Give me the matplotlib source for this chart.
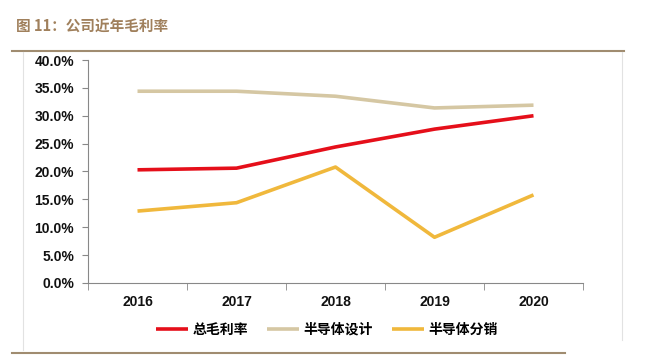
import matplotlib.pyplot as plt
from matplotlib.lines import Line2D
from matplotlib.ticker import FuncFormatter

plt.rcParams['font.family'] = ['Liberation Sans', 'Noto Sans CJK SC', 'DejaVu Sans']

years = ['2016', '2017', '2018', '2019', '2020']
total_margin = [20.3, 20.6, 24.4, 27.6, 30.0]
design_margin = [34.4, 34.4, 33.5, 31.4, 31.9]
distrib_margin = [12.9, 14.4, 20.8, 8.2, 15.8]
labels = ['总毛利率', '半导体设计', '半导体分销']
colors = ['#e50f1a', '#d5c7a3', '#f0b83c']

fig = plt.figure(figsize=(6.49, 3.57), dpi=100)
ax = fig.add_axes([0.1356, 0.2073, 0.7627, 1 - 60 / 357 - 0.2073])

x = range(len(years))
for vals, lab, c in zip([total_margin, design_margin, distrib_margin], labels, colors):
    ax.plot(x, vals, color=c, lw=2.6, label=lab, solid_capstyle='butt')

ax.set_xlim(-0.5, 4.5)
ax.set_ylim(0, 40)
ax.set_yticks(range(0, 41, 5))
ax.yaxis.set_major_formatter(FuncFormatter(lambda v, p: f'{v:.1f}%'))
ax.set_xticks(list(x))
ax.set_xticklabels(years)
ax.set_xticks([i - 0.5 for i in range(6)], minor=True)
ax.tick_params(axis='x', which='major', length=0, pad=9)
ax.tick_params(axis='x', which='minor', length=5, color='#888888', direction='out')
ax.tick_params(axis='y', length=4, color='#888888', direction='out', pad=6)
for lbl in ax.get_xticklabels() + ax.get_yticklabels():
    lbl.set_fontweight('bold')
    lbl.set_fontsize(10)
    lbl.set_color('#111111')
for s in ['top', 'right']:
    ax.spines[s].set_visible(False)
for s in ['left', 'bottom']:
    ax.spines[s].set_color('#888888')
    ax.spines[s].set_linewidth(0.8)

leg = fig.legend(loc='center', bbox_to_anchor=(0.504, 1 - 330 / 357), ncol=3, frameon=False,
                 handlelength=2.3, handletextpad=0.3, columnspacing=1.4,
                 prop={'family': ['Noto Sans CJK SC'], 'weight': 'bold', 'size': 10})

# title and frame
fig.text(16 / 649, 1 - 27 / 357, '图 11：公司近年毛利率', color='#a0805c', fontsize=10.5,
         fontweight='bold', va='center', family=['Noto Sans CJK SC', 'DejaVu Sans'])
fig.add_artist(Line2D([12 / 649, 624 / 649], [1 - 51 / 357] * 2, color='#a08c70', lw=1.5))
fig.add_artist(Line2D([12 / 649, 565 / 649], [1 - 353 / 357] * 2, color='#a08c70', lw=1.5))
fig.add_artist(Line2D([23 / 649] * 2, [1 - 52 / 357, 1 - 350 / 357], color='#e2e2e2', lw=0.8))
fig.add_artist(Line2D([622 / 649] * 2, [1 - 52 / 357, 1 - 340 / 357], color='#e2e2e2', lw=0.8))

fig.savefig('out.png', dpi=100)
